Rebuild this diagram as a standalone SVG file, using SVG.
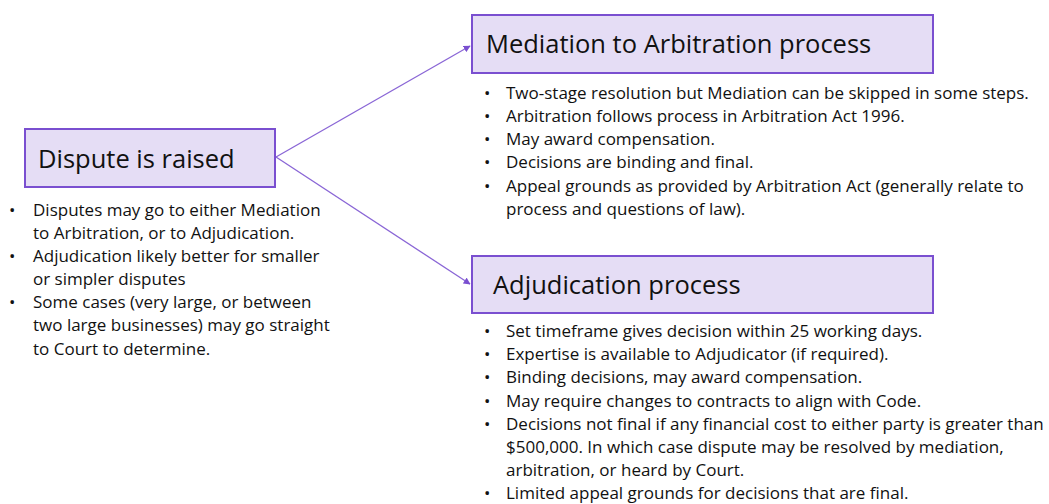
<svg xmlns="http://www.w3.org/2000/svg" width="1049" height="504" viewBox="0 0 1049 504">
<style>
.box{fill:#e5ddf5;stroke:#7a4fd0;stroke-width:2}
.title{font-family:"Open Sans","Noto Sans",sans-serif;font-size:25.5px;fill:#111}
.body{font-family:"Open Sans","Noto Sans",sans-serif;font-size:17px;fill:#111}
.conn{stroke:#8a66d6;stroke-width:1.3;fill:none}
</style>
<defs>
<marker id="arr" viewBox="0 0 10 10" refX="9" refY="5" markerWidth="7" markerHeight="7" orient="auto" markerUnits="userSpaceOnUse">
<path d="M0,0 L10,5 L0,10 z" fill="#7a4fd0"/>
</marker>
</defs>
<rect width="1049" height="504" fill="#fff"/>
<g id="connectors">
<line class="conn" x1="276" y1="157" x2="470" y2="46" marker-end="url(#arr)"/>
<line class="conn" x1="276" y1="157" x2="470" y2="284" marker-end="url(#arr)"/>
</g>
<g id="node-dispute">
<rect class="box" x="25" y="129" width="250" height="58"/>
<text class="title" x="38" y="168">Dispute is raised</text>
<g class="body">
<text x="9" y="216">•</text><text x="33" y="216">Disputes may go to either Mediation</text>
<text x="33" y="239">to Arbitration, or to Adjudication.</text>
<text x="9" y="262">•</text><text x="33" y="262">Adjudication likely better for smaller</text>
<text x="33" y="285">or simpler disputes</text>
<text x="9" y="308">•</text><text x="33" y="308">Some cases (very large, or between</text>
<text x="33" y="331">two large businesses) may go straight</text>
<text x="33" y="355">to Court to determine.</text>
</g>
</g>
<g id="node-mediation">
<rect class="box" x="472" y="15" width="461" height="58"/>
<text class="title" x="486" y="53">Mediation to Arbitration process</text>
<g class="body">
<text x="484" y="99">•</text><text x="506" y="99">Two-stage resolution but Mediation can be skipped in some steps.</text>
<text x="484" y="122">•</text><text x="506" y="122">Arbitration follows process in Arbitration Act 1996.</text>
<text x="484" y="145">•</text><text x="506" y="145">May award compensation.</text>
<text x="484" y="168">•</text><text x="506" y="168">Decisions are binding and final.</text>
<text x="484" y="192">•</text><text x="506" y="192">Appeal grounds as provided by Arbitration Act (generally relate to</text>
<text x="506" y="215">process and questions of law).</text>
</g>
</g>
<g id="node-adjudication">
<rect class="box" x="472" y="256" width="461" height="57"/>
<text class="title" x="493" y="294">Adjudication process</text>
<g class="body">
<text x="484" y="337">•</text><text x="506" y="337">Set timeframe gives decision within 25 working days.</text>
<text x="484" y="360">•</text><text x="506" y="360">Expertise is available to Adjudicator (if required).</text>
<text x="484" y="383">•</text><text x="506" y="383">Binding decisions, may award compensation.</text>
<text x="484" y="407">•</text><text x="506" y="407">May require changes to contracts to align with Code.</text>
<text x="484" y="430">•</text><text x="506" y="430">Decisions not final if any financial cost to either party is greater than</text>
<text x="506" y="453">$500,000. In which case dispute may be resolved by mediation,</text>
<text x="506" y="476">arbitration, or heard by Court.</text>
<text x="484" y="499">•</text><text x="506" y="499">Limited appeal grounds for decisions that are final.</text>
</g>
</g>
</svg>
